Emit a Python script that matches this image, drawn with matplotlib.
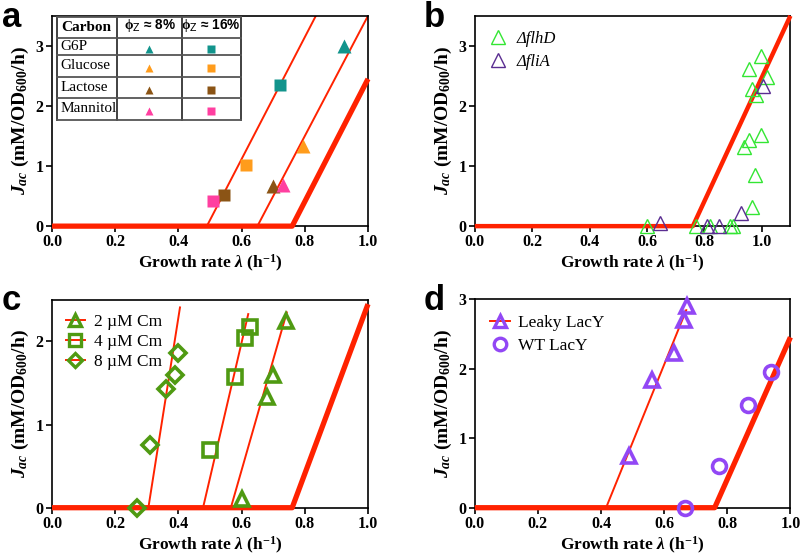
import matplotlib.pyplot as plt
from matplotlib.lines import Line2D

plt.rcParams['font.family'] = 'Liberation Serif'
plt.rcParams['mathtext.fontset'] = 'custom'
plt.rcParams['mathtext.rm'] = 'Liberation Serif:bold'
plt.rcParams['mathtext.it'] = 'Liberation Serif:italic:bold'
plt.rcParams['mathtext.bf'] = 'Liberation Serif:bold'

RED = '#ff2200'

# reference line (wild type), shared by all panels
ref_lam = [0.0, 0.76, 1.0]
ref_jac = [0.0, 0.0, 2.45]
ref_lam_b = [0.0, 0.76, 1.1]
ref_jac_b = [0.0, 0.0, 3.5]

# panel a
carbons = ['G6P', 'Glucose', 'Lactose', 'Mannitol']
carbon_colors = ['#12948c', '#ff9c1c', '#8b5415', '#ff3fa0']
lam_phi8 = [0.925, 0.795, 0.70, 0.73]
jac_phi8 = [3.0, 1.33, 0.67, 0.69]
lam_phi16 = [0.72, 0.615, 0.545, 0.51]
jac_phi16 = [2.35, 1.02, 0.52, 0.42]
fit_a_lam = [[0.49, 0.835], [0.65, 1.0]]
fit_a_jac = [[0.0, 3.5], [0.0, 3.5]]

# panel b
flhD_lam = [0.60, 0.77, 0.82, 0.89, 0.90, 0.967, 0.977, 0.938, 0.956, 0.997,
            0.98, 0.965, 1.017, 0.956, 0.997]
flhD_jac = [0, 0, 0, 0, 0, 0.32, 0.85, 1.31, 1.44, 1.52, 2.18, 2.29, 2.49, 2.62, 2.83]
fliA_lam = [0.647, 0.81, 0.85, 0.927, 1.006]
fliA_jac = [0.05, 0, 0, 0.22, 2.33]

# panel c
cm_labels = ['2 µM Cm', '4 µM Cm', '8 µM Cm']
cm_markers = ['^', 's', 'D']
cm2_lam = [0.60, 0.68, 0.70, 0.74]
cm2_jac = [0.1, 1.33, 1.6, 2.25]
cm4_lam = [0.50, 0.58, 0.61, 0.625]
cm4_jac = [0.70, 1.57, 2.04, 2.18]
cm8_lam = [0.27, 0.31, 0.36, 0.39, 0.40]
cm8_jac = [0.0, 0.76, 1.43, 1.6, 1.86]
fit_c_lam = [[0.566, 0.743], [0.478, 0.621], [0.305, 0.405]]
fit_c_jac = [[0.0, 2.35], [0.0, 2.33], [0.0, 2.41]]

# panel d
leaky_lam = [0.49, 0.56, 0.631, 0.662, 0.671]
leaky_jac = [0.75, 1.84, 2.22, 2.70, 2.90]
wt_lam = [0.667, 0.775, 0.865, 0.94]
wt_jac = [0.0, 0.6, 1.48, 1.95]
fit_d_lam = [0.416, 0.67]
fit_d_jac = [0.0, 2.84]

GREEN_C = '#4f9a12'
PURPLE_D = '#9247f5'


def style(ax, xmax, ymax, yticks):
    ax.set_xlim(0, xmax)
    ax.set_ylim(0, ymax)
    ax.set_xticks([0, 0.2, 0.4, 0.6, 0.8, 1.0])
    ax.set_xticklabels(['0.0', '0.2', '0.4', '0.6', '0.8', '1.0'], fontweight='bold')
    ax.set_yticks(yticks)
    ax.set_yticklabels([str(v) for v in yticks], fontweight='bold')
    ax.tick_params(direction='out', length=4, width=1.2, labelsize=11.5, pad=2)
    for s in ax.spines.values():
        s.set_linewidth(1.2)
    ax.set_xlabel(r'Growth rate $\lambda$ (h$^{\mathbf{-1}}$)', fontsize=12.5,
                  fontweight='bold', labelpad=2)
    ax.set_ylabel(r'$J_{ac}$ (mM/OD$_{600}$/h)', fontsize=14, fontweight='bold', labelpad=3)


fig = plt.figure(figsize=(8, 5.57), dpi=100)
ax_a = fig.add_axes([0.065, 0.594, 0.395, 0.3776])
ax_b = fig.add_axes([0.5935, 0.594, 0.3945, 0.3776])
ax_c = fig.add_axes([0.065, 0.0885, 0.395, 0.373])
ax_d = fig.add_axes([0.5935, 0.0885, 0.3945, 0.3747])

# ---- a
ax = ax_a
style(ax, 1.0, 3.5, [0, 1, 2, 3])
for xs, ys in zip(fit_a_lam, fit_a_jac):
    ax.plot(xs, ys, color=RED, lw=1.4)
ax.plot(ref_lam, ref_jac, color=RED, lw=3.8, clip_on=False, solid_capstyle='butt', zorder=5)
for i in range(len(carbons)):
    ax.plot(lam_phi8[i], jac_phi8[i], '^', color=carbon_colors[i], ms=10, mec='none', zorder=6)
    ax.plot(lam_phi16[i], jac_phi16[i], 's', color=carbon_colors[i], ms=9, mec='none', zorder=6)

# inset table
tx = [0.015, 0.207, 0.41, 0.597]
ty = [0.995, 0.893, 0.813, 0.710, 0.607, 0.507]
for x in tx:
    ax.plot([x, x], [ty[-1], ty[0]], transform=ax.transAxes, color='#333333', lw=1.3, zorder=7)
for y in ty:
    ax.plot([tx[0], tx[-1]], [y, y], transform=ax.transAxes, color='#555555', lw=1.3, zorder=7)
ax.text(0.028, (ty[0] + ty[1]) / 2, 'Carbon', transform=ax.transAxes, fontsize=11,
        fontweight='bold', va='center', ha='left')
for k, lab in enumerate(['8%', '16%']):
    ax.text((tx[k + 1] + tx[k + 2]) / 2, (ty[0] + ty[1]) / 2 + 0.01,
            r'$\mathrm{\phi}_\mathsf{Z}$ ≈ ' + lab,
            transform=ax.transAxes, fontsize=9.8, family='Liberation Sans', fontweight='bold',
            va='center', ha='center')
for i, name in enumerate(carbons):
    yc = (ty[i + 1] + ty[i + 2]) / 2
    ax.text(0.028, yc, name, transform=ax.transAxes, fontsize=11, fontweight='normal',
            va='center', ha='left')
    ax.plot((tx[1] + tx[2]) / 2, yc - 0.01, '^', color=carbon_colors[i], ms=6,
            mec='none', transform=ax.transAxes, zorder=8)
    ax.plot((tx[2] + tx[3]) / 2, yc - 0.01, 's', color=carbon_colors[i], ms=6,
            mec='none', transform=ax.transAxes, zorder=8)

# ---- b
ax = ax_b
style(ax, 1.1, 3.5, [0, 1, 2, 3])
ax.plot(ref_lam_b, ref_jac_b, color=RED, lw=3.2, clip_on=False, solid_capstyle='butt', zorder=5)
ax.plot(flhD_lam, flhD_jac, '^', ms=10, mfc='none', mec='#33e633', mew=1.0,
        ls='none', clip_on=False, zorder=6, label='ΔflhD')
ax.plot(fliA_lam, fliA_jac, '^', ms=10, mfc='none', mec='#5a2d91', mew=1.0,
        ls='none', clip_on=False, zorder=6, label='ΔfliA')
ax.legend(loc='upper left', bbox_to_anchor=(0.0, 1.0), frameon=False,
          handlelength=1.0, labelspacing=0.45, handletextpad=0.6, borderaxespad=0.5,
          prop={'family': 'Liberation Serif', 'style': 'italic', 'weight': 'normal', 'size': 12})

# ---- c
ax = ax_c
style(ax, 1.0, 2.5, [0, 1, 2])
for xs, ys in zip(fit_c_lam, fit_c_jac):
    ax.plot(xs, ys, color=RED, lw=1.4)
ax.plot(ref_lam, ref_jac, color=RED, lw=3.8, clip_on=False, solid_capstyle='butt', zorder=5)
for lam, jac, m in zip([cm2_lam, cm4_lam, cm8_lam], [cm2_jac, cm4_jac, cm8_jac], cm_markers):
    ms = 8 if m == 'D' else 10
    ax.plot(lam, jac, m, ms=ms, mfc='none', mec=GREEN_C, mew=2.6, ls='none',
            clip_on=False, zorder=6)
handles = [Line2D([], [], color=RED, lw=1.4, marker=m, ms=(7 if m == 'D' else 9),
                  mfc='none', mec=GREEN_C, mew=2.4) for m in cm_markers]
ax.legend(handles, cm_labels, loc='upper left', bbox_to_anchor=(0.0, 1.0), frameon=False,
          handlelength=1.1, labelspacing=0.22, handletextpad=0.5, borderaxespad=0.4,
          prop={'family': 'Liberation Serif', 'weight': 'normal', 'size': 12.5})

# ---- d
ax = ax_d
style(ax, 1.0, 3.0, [0, 1, 2, 3])
ax.plot(fit_d_lam, fit_d_jac, color=RED, lw=1.4)
ax.plot(ref_lam, ref_jac, color=RED, lw=3.8, clip_on=False, solid_capstyle='butt', zorder=5)
ax.plot(leaky_lam, leaky_jac, '^', ms=10, mfc='none', mec=PURPLE_D, mew=2.6, ls='none',
        clip_on=False, zorder=6)
ax.plot(wt_lam, wt_jac, 'o', ms=10, mfc='none', mec=PURPLE_D, mew=2.6, ls='none',
        clip_on=False, zorder=6)
handles = [Line2D([], [], color=RED, lw=1.4, marker='^', ms=9, mfc='none', mec=PURPLE_D, mew=2.4),
           Line2D([], [], ls='none', marker='o', ms=9, mfc='none', mec=PURPLE_D, mew=2.4)]
ax.legend(handles, ['Leaky LacY', 'WT LacY'], loc='upper left', bbox_to_anchor=(0.0, 1.0),
          frameon=False, handlelength=1.1, labelspacing=0.4, handletextpad=0.5,
          borderaxespad=0.5,
          prop={'family': 'Liberation Serif', 'weight': 'normal', 'size': 12.5})

# panel letters
for x, y, s in [(0.002, 0.998, 'a'), (0.53, 0.998, 'b'), (0.002, 0.49, 'c'), (0.53, 0.49, 'd')]:
    fig.text(x, y, s, family='Liberation Sans', fontweight='bold', fontsize=25, va='top', ha='left')

fig.savefig('out.png', dpi=100)
